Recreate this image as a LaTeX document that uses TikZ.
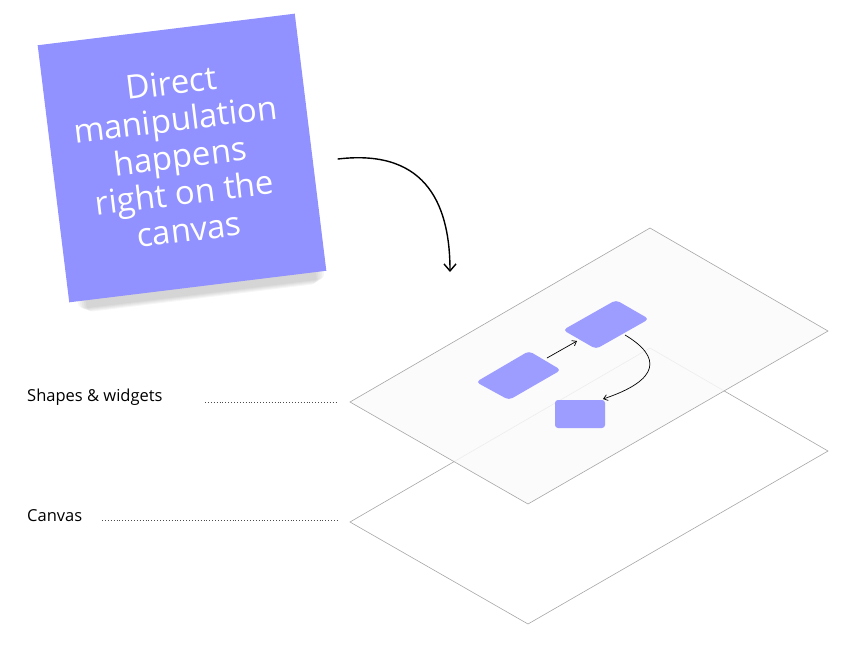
\documentclass[tikz,border=0pt]{standalone}
\usepackage{fontspec}
\setmainfont{Open Sans}
\usetikzlibrary{arrows.meta}
\definecolor{notecol}{HTML}{9191FF}
\definecolor{shapecol}{HTML}{9D9CFF}
\tikzset{
  plane/.style={draw=black!35,line width=0.6pt},
  shp/.style={fill=shapecol,rounded corners=4pt},
  conn/.style={-{Straight Barb[length=4pt,width=6pt]},line width=0.7pt},
  lbl/.style={anchor=west,font=\fontsize{16.5}{19}\selectfont,inner sep=0pt},
  dots/.style={dotted,line width=0.9pt,black!70}
}
\begin{document}
\begin{tikzpicture}[x=1pt,y=-1pt]
\useasboundingbox (0,0) rectangle (855,657);
% lower plane
\draw[plane] (650,348) -- (828,451) -- (528,624) -- (350,522) -- cycle;
% upper plane
\draw[plane,fill=black!2,fill opacity=0.85] (650,228) -- (828,331) -- (528,504) -- (350,402) -- cycle;
% shapes
\fill[shp] (476,382) -- (529,351) -- (561,370) -- (509,400) -- cycle;
\node[inner sep=0pt] (A) at (518,376) {};
\fill[shp] (563,330) -- (616,300) -- (649,319) -- (596,349) -- cycle;
\node[inner sep=0pt] (B) at (606,325) {};
\fill[shapecol,rounded corners=3pt] (555,400) rectangle (605,428);
\node[inner sep=0pt] (C) at (580,414) {};
\coordinate (a1) at (547,358);
\coordinate (b1) at (577,341);
\coordinate (b2) at (625,335);
\coordinate (c1) at (603,399);
\draw[conn] (a1) -- (b1);
\draw[conn] (b2) .. controls (662,357) and (660,380) .. (c1);
% note shadow
\foreach \o in {2,4,6,8,10}{
  \fill[black,opacity=0.035,rounded corners=6pt,rotate around={7:(186,166)}] (186-126+\o,166-120+\o/2) rectangle (186+126-\o,166+128+\o/2);
}
% sticky note
\node[fill=notecol,minimum width=259pt,minimum height=259pt,rotate=7,inner sep=0pt] (note) at (182,158) {};
\node[rotate=7,text=white,align=center,font=\fontsize{33}{37}\selectfont] (txt) at (180,156) {Direct\\manipulation\\happens\\right on the\\canvas};
% big arrow
\coordinate (s) at (338,159);
\coordinate (e) at (450,272);
\draw[line width=1.4pt,-{Straight Barb[length=7pt,width=12pt]},line cap=round] (s) .. controls (430,148) and (450,210) .. (e);
% labels
\node[lbl] (l1) at (27,397) {Shapes \& widgets};
\node[lbl] (l2) at (27,516) {Canvas};
\coordinate (d1) at (338,402);
\coordinate (d2) at (338,520);
\draw[dots] (205,402) -- (d1);
\draw[dots] (102,520) -- (d2);
\end{tikzpicture}
\end{document}
